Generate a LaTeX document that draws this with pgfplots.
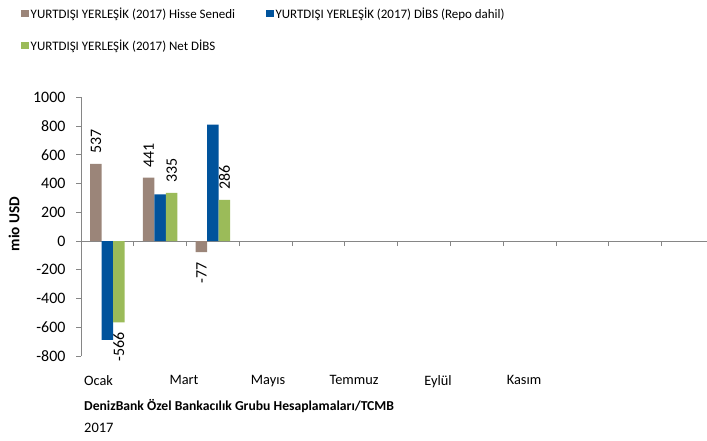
\documentclass[border=0pt]{standalone}
\usepackage{pgfplots}
\pgfplotsset{compat=1.18}
\usepackage{fontspec}
\setmainfont{Carlito}
\definecolor{cbrown}{RGB}{155,133,121}
\definecolor{cblue}{RGB}{0,83,156}
\definecolor{cgreen}{RGB}{155,187,89}
\definecolor{axgray}{RGB}{134,134,134}
\newcommand{\lf}{\fontsize{13}{15.5}\selectfont}
\begin{document}
\begin{tikzpicture}
\useasboundingbox (0,0) rectangle (707bp,441bp);
\begin{axis}[
  at={(81bp,85bp)}, anchor=south west,
  scale only axis, width=626bp, height=258.7bp,
  xmin=-0.5, xmax=11.36, ymin=-800, ymax=1000,
  ytick={-800,-600,...,1000},
  /pgf/number format/assume math mode=true,
  /pgf/number format/1000 sep={},
  axis y line=left, axis x line=middle,
  axis line style={-, draw=axgray, line width=0.9bp},
  tick style={draw=axgray, line width=0.9bp},
  tick align=outside,
  major tick length=5bp,
  xtick={0.5,1.5,2.5,3.5,4.5,5.5,6.5,7.5,8.5,9.5,10.5}, xticklabels={},
  extra x ticks={-0.168,1.452,3.044,4.673,6.265,7.895},
  extra x tick labels={Ocak,Mart,Mayıs,Temmuz,Eylül,Kasım},
  extra x tick style={major tick length=0pt},
  xticklabel shift=131bp,
  xticklabel style={font=\fontsize{14.4}{17}\selectfont},
  yticklabel style={font=\fontsize{16}{19}\selectfont, xshift=-7bp},
  ylabel={\fontsize{15.3}{18}\selectfont\bfseries mio USD},
  ylabel style={at={(axis description cs:-0.107,0.51)}, anchor=center},
  ybar, bar width=11.5bp,
  legend columns=2,
  legend cell align=left,
  legend style={at={(axis description cs:-0.0958,1.355)}, anchor=north west, draw=none, fill=none, inner sep=0pt,
    font=\lf, nodes={font=\lf}, row sep=16bp,
    /tikz/every even column/.append style={column sep=29bp}},
  legend image code/.code={\fill[#1] (0bp,-3.75bp) rectangle (7.5bp,3.75bp);},
]
\addplot[fill=cbrown, draw=none, bar shift=-11.5bp] coordinates {(0,537) (1,441) (2,-77)};
\addlegendentry{\lf YURTDIŞI YERLEŞİK (2017) Hisse Senedi}
\addplot[fill=cblue, draw=none, bar shift=0bp] coordinates {(0,-688) (1,325) (2,810)};
\addlegendentry{\lf YURTDIŞI YERLEŞİK (2017) DİBS (Repo dahil)}
\addplot[fill=cgreen, draw=none, bar shift=11.5bp] coordinates {(0,-566) (1,335) (2,286)};
\addlegendentry{\lf YURTDIŞI YERLEŞİK (2017) Net DİBS}
% data labels
\addplot[draw=none, fill=none, bar shift=-11.5bp, forget plot, nodes near coords,
  nodes near coords style={rotate=90, anchor=west, inner xsep=10bp, inner ysep=0pt, font=\fontsize{16}{19}\selectfont, /pgf/number format/assume math mode=true}]
  coordinates {(0,537) (1,441)};
\addplot[draw=none, fill=none, bar shift=-11.5bp, forget plot, nodes near coords,
  nodes near coords style={rotate=90, anchor=east, inner xsep=10bp, inner ysep=0pt, font=\fontsize{16}{19}\selectfont, /pgf/number format/assume math mode=true}]
  coordinates {(2,-77)};
\addplot[draw=none, fill=none, bar shift=11.5bp, forget plot, nodes near coords,
  nodes near coords style={rotate=90, anchor=west, inner xsep=10bp, inner ysep=0pt, font=\fontsize{16}{19}\selectfont, /pgf/number format/assume math mode=true}]
  coordinates {(1,335) (2,286)};
\addplot[draw=none, fill=none, bar shift=11.5bp, forget plot, nodes near coords,
  nodes near coords style={rotate=90, anchor=east, inner xsep=10bp, inner ysep=0pt, font=\fontsize{16}{19}\selectfont, /pgf/number format/assume math mode=true}]
  coordinates {(0,-566)};
\end{axis}
\node[anchor=west, inner sep=0pt, font=\bfseries\fontsize{13.7}{16}\selectfont] at (84bp,35bp) {DenizBank Özel Bankacılık Grubu Hesaplamaları/TCMB};
\node[anchor=west, inner sep=0pt, font=\fontsize{14.5}{17}\selectfont] at (84bp,13bp) {2017};
\end{tikzpicture}
\end{document}
